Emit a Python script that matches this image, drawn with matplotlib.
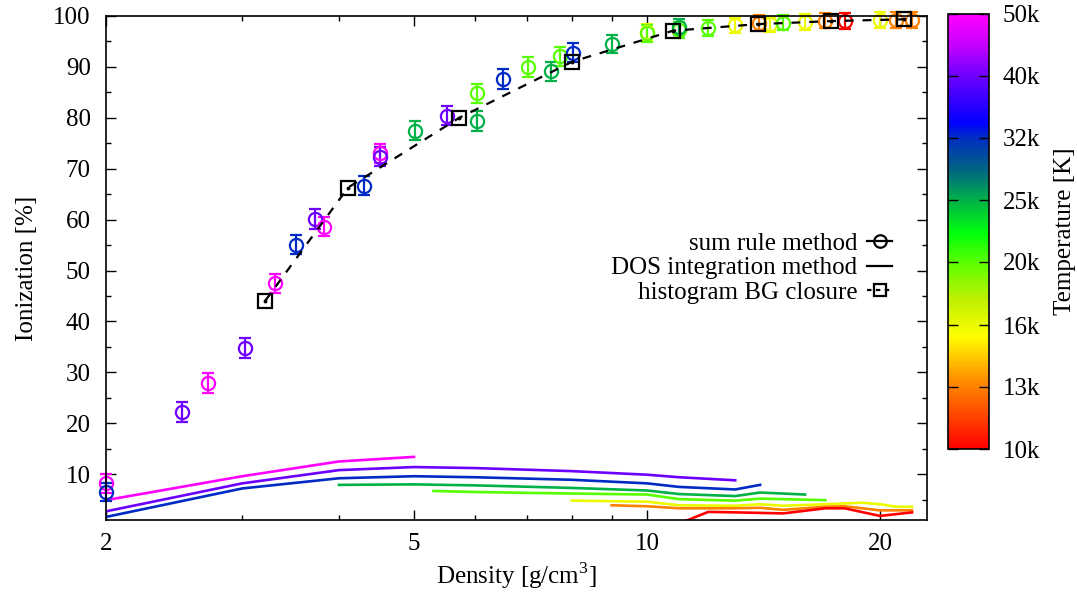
import matplotlib
matplotlib.use('Agg')
import matplotlib.pyplot as plt
from matplotlib.colors import LinearSegmentedColormap, LogNorm
from matplotlib.cm import ScalarMappable
from matplotlib.lines import Line2D
from matplotlib.ticker import FixedLocator, NullFormatter, MultipleLocator

plt.rcParams['font.family'] = 'Liberation Serif'
plt.rcParams['mathtext.fontset'] = 'custom'
plt.rcParams['mathtext.rm'] = 'Liberation Serif'
plt.rcParams['font.size'] = 18

# sum rule method (circles with error bars)
sr_x = [2.0, 2.0, 2.51, 2.71, 3.02, 3.31, 3.52, 3.72, 3.82, 4.31, 4.52, 4.52,
        5.01, 5.51, 6.03, 6.03, 6.52, 7.02, 7.51, 7.71, 8.02, 9.02, 10.0, 10.0,
        11.0, 11.0, 12.0, 13.0, 13.95, 14.4, 15.0, 16.0, 17.0, 18.0, 20.0, 21.0, 22.0]
sr_y = [8.2, 6.5, 22.2, 27.9, 34.8, 47.5, 55.1, 60.1, 58.6, 66.7, 73.0, 72.4,
        77.5, 80.4, 84.8, 79.4, 87.6, 90.0, 89.1, 92.1, 92.8, 94.5, 96.8, 96.6,
        97.3, 97.8, 97.7, 98.2, 98.6, 98.4, 98.7, 98.8, 99.1, 99.0, 99.2, 99.2, 99.2]
sr_err = [1.8, 1.8, 1.9, 1.9, 1.9, 1.9, 1.9, 1.9, 1.9, 1.9, 1.9, 1.9,
          1.9, 1.9, 1.9, 1.9, 1.9, 1.9, 1.9, 1.9, 1.8, 1.8, 1.7, 1.7,
          1.6, 1.6, 1.6, 1.5, 1.5, 1.5, 1.5, 1.5, 1.5, 1.5, 1.5, 1.5, 1.5]
sr_T = [50000, 31600, 39800, 50000, 39800, 50000, 31600, 39800, 50000, 31600, 50000, 39800,
        25100, 39800, 20000, 25100, 31600, 20000, 25100, 20000, 31600, 25100, 15800, 20000,
        20000, 25100, 20000, 15800, 12600, 15800, 20000, 15800, 12600, 10000, 15800, 12600, 12600]

# DOS integration method (one line per temperature)
dos_x_50k = [2, 3, 4, 5]
dos_y_50k = [4.9, 9.6, 12.5, 13.4]
dos_x_40k = [2, 3, 4, 5, 6, 8, 10, 11, 13]
dos_y_40k = [2.7, 8.2, 10.8, 11.4, 11.2, 10.6, 9.9, 9.4, 8.8]
dos_x_32k = [2, 3, 4, 5, 6, 8, 10, 11, 13, 14]
dos_y_32k = [1.6, 7.2, 9.2, 9.6, 9.4, 8.9, 8.2, 7.5, 7.0, 7.9]
dos_x_25k = [4, 5, 6, 8, 10, 11, 13, 14, 16]
dos_y_25k = [7.9, 8.0, 7.8, 7.3, 6.8, 6.1, 5.7, 6.4, 6.0]
dos_x_20k = [5.3, 6, 8, 10, 11, 13, 14, 17]
dos_y_20k = [6.7, 6.5, 6.2, 6.0, 5.1, 4.8, 5.2, 4.9]
dos_x_16k = [8, 10, 11, 13, 14, 15, 17, 19, 20, 21, 22]
dos_y_16k = [4.8, 4.6, 3.9, 3.8, 4.1, 3.8, 4.1, 4.4, 4.1, 3.6, 3.6]
dos_x_13k = [9, 10, 11, 13, 14, 15, 17, 18, 20, 22]
dos_y_13k = [3.9, 3.7, 3.3, 3.3, 3.4, 3.0, 3.6, 3.7, 2.9, 2.9]
dos_x_10k = [11, 12, 13, 15, 17, 18, 20, 22]
dos_y_10k = [0.3, 2.6, 2.5, 2.3, 3.3, 3.3, 1.8, 2.5]

dos_lines = [(50000, dos_x_50k, dos_y_50k), (39800, dos_x_40k, dos_y_40k),
             (31600, dos_x_32k, dos_y_32k), (25100, dos_x_25k, dos_y_25k),
             (20000, dos_x_20k, dos_y_20k), (15800, dos_x_16k, dos_y_16k),
             (12600, dos_x_13k, dos_y_13k), (10000, dos_x_10k, dos_y_10k)]

# histogram BG closure
hist_x = [3.21, 4.11, 5.72, 8.0, 10.8, 13.9, 17.3, 21.5]
hist_y = [44.0, 66.3, 80.0, 91.0, 97.1, 98.4, 99.0, 99.35]

cbar_ticks = [10000, 12600, 15800, 20000, 25100, 31600, 39800, 50000]
cbar_labels = ['10k', '13k', '16k', '20k', '25k', '32k', '40k', '50k']

# gnuplot-like rainbow palette
cmap = LinearSegmentedColormap.from_list('temp', [
    (0.0, (1.0, 0.0, 0.0)),
    (0.162, (1.0, 0.58, 0.0)),
    (0.258, (1.0, 1.0, 0.0)),
    (0.343, (0.75, 0.94, 0.0)),
    (0.43, (0.35, 1.0, 0.0)),
    (0.496, (0.0, 1.0, 0.05)),
    (0.569, (0.0, 0.71, 0.27)),
    (0.641, (0.0, 0.40, 0.51)),
    (0.721, (0.0, 0.16, 0.78)),
    (0.749, (0.0, 0.0, 1.0)),
    (0.859, (0.43, 0.0, 1.0)),
    (0.933, (0.78, 0.0, 1.0)),
    (1.0, (1.0, 0.0, 1.0)),
])
norm = LogNorm(vmin=10000, vmax=50000)

fig = plt.figure(figsize=(10.77, 6.06), dpi=100)
ax = fig.add_axes([0.0984, 0.1419, 0.7623, 0.8317])
cax = fig.add_axes([0.880, 0.259, 0.038, 0.718])

for T, xs, ys in dos_lines:
    ax.plot(xs, ys, '-', color=cmap(norm(T)), lw=1.9)

for x, y, e, T in zip(sr_x, sr_y, sr_err, sr_T):
    c = cmap(norm(T))
    ax.errorbar([x], [y], yerr=[e], fmt='o', ms=9.5, mfc='none', mec=c, mew=1.6,
                ecolor=c, elinewidth=1.6, capsize=4, capthick=1.6, clip_on=False)

ax.plot(hist_x, hist_y, color='k', ls=(0, (4, 4)), lw=1.6, marker='s', ms=10,
        mfc='none', mec='k', mew=1.6, clip_on=False, zorder=5)
ax.plot(hist_x, hist_y, ls='none', marker='o', ms=1.8, color='k', clip_on=False, zorder=5)

ax.set_xscale('log')
ax.set_xlim(2, 23)
ax.set_ylim(1, 100)
ax.xaxis.set_major_locator(FixedLocator([2, 5, 10, 20]))
ax.xaxis.set_minor_locator(FixedLocator([3, 4, 6, 7, 8, 9]))
ax.xaxis.set_minor_formatter(NullFormatter())
ax.set_xticklabels(['2', '5', '10', '20'])
ax.yaxis.set_major_locator(FixedLocator(range(10, 101, 10)))
ax.yaxis.set_minor_locator(MultipleLocator(5))
ax.tick_params(which='both', direction='in', top=True, right=True, width=1)
ax.tick_params(which='major', length=7)
ax.tick_params(which='minor', length=3.6)
ax.tick_params(axis='x', pad=9)
ax.tick_params(axis='y', pad=11)
for s in ax.spines.values():
    s.set_linewidth(1.2)

ax.set_xlabel('Density [g/cm$^3$]', labelpad=4)
ax.set_ylabel('Ionization [%]', labelpad=11)

handles = [
    Line2D([], [], color='k', marker='o', ms=9, mfc='none', mew=1.6, lw=1.6),
    Line2D([], [], color='k', lw=1.6),
    Line2D([], [], color='k', ls=(0, (2, 2)), lw=1.6, marker='s', ms=9, mfc='none', mew=1.6),
]
labels = ['sum rule method', 'DOS integration method', 'histogram BG closure']
ax.legend(handles, labels, loc='center right', bbox_to_anchor=(0.958, 0.5),
          frameon=False, markerfirst=False, handlelength=1.0, handletextpad=0.4,
          labelspacing=0.08, borderpad=0, borderaxespad=0)

cb = fig.colorbar(ScalarMappable(norm=norm, cmap=cmap), cax=cax)
cb.minorticks_off()
cb.set_ticks(cbar_ticks)
cb.set_ticklabels(cbar_labels)
cb.minorticks_off()
cax.tick_params(which='major', direction='in', left=True, right=True, length=7, width=1, pad=10)
cb.outline.set_linewidth(1.2)
cb.set_label('Temperature [K]', labelpad=10)

fig.savefig('out.png', dpi=100)
